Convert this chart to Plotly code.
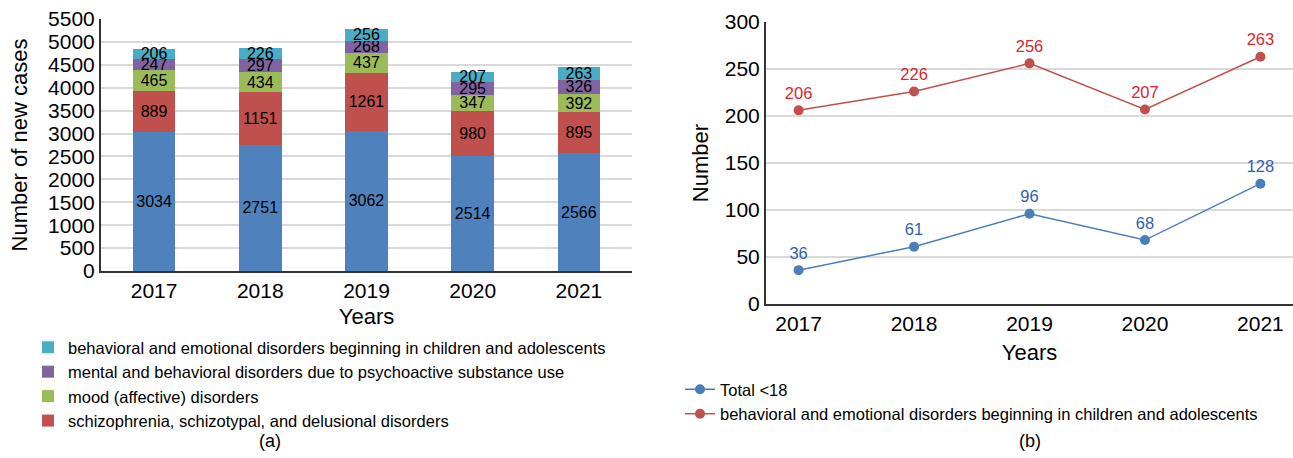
import plotly.graph_objects as go

years = ["2017", "2018", "2019", "2020", "2021"]
other = [3034, 2751, 3062, 2514, 2566]
schizo = [889, 1151, 1261, 980, 895]
mood = [465, 434, 437, 347, 392]
substance = [247, 297, 268, 295, 326]
behav = [206, 226, 256, 207, 263]
total_u18 = [36, 61, 96, 68, 128]

names_a = [
    "other",
    "schizophrenia, schizotypal, and delusional disorders",
    "mood (affective) disorders",
    "mental and behavioral disorders due to psychoactive substance use",
    "behavioral and emotional disorders beginning in children and adolescents",
]
colors_a = ["#4F81BD", "#C0504D", "#9BBB59", "#8064A2", "#4BACC6"]
series_a = [other, schizo, mood, substance, behav]

FONT = "Liberation Sans, Arial, sans-serif"
fig = go.Figure()

for i, (nm, col, vals) in enumerate(zip(names_a, colors_a, series_a)):
    fig.add_trace(go.Bar(
        x=years, y=vals, name=nm, marker_color=col, marker_line_width=0,
        text=[str(v) for v in vals], textposition="inside",
        insidetextanchor="middle", textangle=0,
        textfont=dict(size=16, color="black", family=FONT),
        showlegend=(i > 0), legend="legend", xaxis="x", yaxis="y",
        hoverinfo="skip",
    ))

fig.add_trace(go.Scatter(
    x=years, y=total_u18, name="Total <18", mode="lines+markers+text",
    line=dict(color="#4A7EBB", width=1.5), marker=dict(size=10, color="#4A7EBB"),
    text=[str(v) for v in total_u18], textposition="top center",
    textfont=dict(size=16.5, color="#2F5DB5", family=FONT),
    xaxis="x2", yaxis="y2", legend="legend2",
))
fig.add_trace(go.Scatter(
    x=years, y=behav, name="behavioral and emotional disorders beginning in children and adolescents",
    mode="lines+markers+text",
    line=dict(color="#C0504D", width=1.5), marker=dict(size=10, color="#C0504D"),
    text=[str(v) for v in behav], textposition="top center",
    textfont=dict(size=16.5, color="#D9262F", family=FONT),
    xaxis="x2", yaxis="y2", legend="legend2",
))

H = 458
W = 1293
axis_common = dict(showline=True, linecolor="#333333", linewidth=2, ticks="",
                   tickfont=dict(size=21, color="black", family=FONT))

fig.update_layout(
    width=W, height=H, margin=dict(l=0, r=0, t=0, b=0, autoexpand=False),
    plot_bgcolor="white", paper_bgcolor="white",
    font=dict(family=FONT, color="black"),
    barmode="stack", bargap=0.6,
    uniformtext=dict(minsize=16, mode="show"),
    xaxis=dict(domain=[101 / W, 632 / W], anchor="y", automargin=False,
               title=dict(text="Years", font=dict(size=22), standoff=7),
               **axis_common),
    yaxis=dict(domain=[1 - 271 / H, 1 - 19 / H], anchor="x", range=[0, 5500],
               automargin=False,
               dtick=500, showgrid=True, gridcolor="#D9D9D9", gridwidth=1.5,
               title=dict(text="Number of new cases", font=dict(size=22), standoff=14),
               **axis_common),
    xaxis2=dict(domain=[766 / W, 1.0], anchor="y2", automargin=False,
                title=dict(text="Years", font=dict(size=22), standoff=10),
                **axis_common),
    yaxis2=dict(domain=[1 - 304 / H, 1 - 22 / H], anchor="x2", range=[0, 300],
                automargin=False,
                dtick=50, showgrid=True, gridcolor="#D9D9D9", gridwidth=1.5,
                title=dict(text="Number", font=dict(size=22), standoff=10),
                **axis_common),
    legend=dict(x=28 / W, y=1 - 330 / H, xanchor="left", yanchor="top",
                traceorder="reversed", font=dict(size=16.5, family=FONT),
                bgcolor="rgba(0,0,0,0)", tracegroupgap=0, itemclick=False),
    legend2=dict(x=680 / W, y=1 - 372 / H, xanchor="left", yanchor="top",
                 traceorder="normal", font=dict(size=16.5, family=FONT),
                 bgcolor="rgba(0,0,0,0)", tracegroupgap=0, itemclick=False),
    annotations=[
        dict(text="(a)", x=270 / W, y=1 - 441 / H, xref="paper", yref="paper",
             showarrow=False, font=dict(size=18, family=FONT), xanchor="center", yanchor="middle"),
        dict(text="(b)", x=1030 / W, y=1 - 441 / H, xref="paper", yref="paper",
             showarrow=False, font=dict(size=18, family=FONT), xanchor="center", yanchor="middle"),
    ],
)

fig.write_html("out.html")
